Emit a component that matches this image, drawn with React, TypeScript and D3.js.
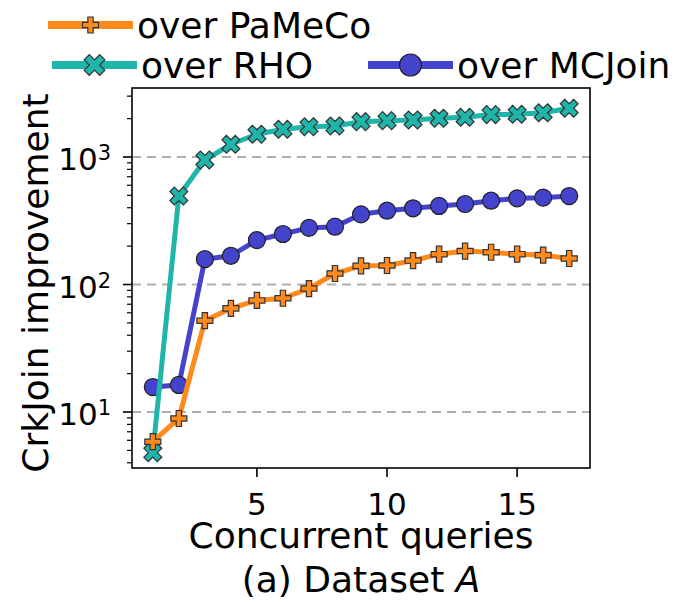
import React, { useRef, useEffect } from 'react';
import * as d3 from 'd3';

// concurrent queries 1..17
const queries = [1, 2, 3, 4, 5, 6, 7, 8, 9, 10, 11, 12, 13, 14, 15, 16, 17];

// improvement of CrkJoin over each competitor
const overPaMeCo = [5.85, 8.9, 52, 65, 75, 78, 93, 122, 140, 141, 154, 173, 183, 179, 173, 170, 160];
const overRHO = [4.8, 494, 947, 1258, 1507, 1648, 1728, 1751, 1892, 1927, 1950, 2012, 2048, 2150, 2161, 2223, 2410];
const overMCJoin = [15.7, 16.3, 158, 168, 223, 249, 278, 284, 355, 379, 396, 413, 428, 454, 474, 480, 494];

const xTicks = [5, 10, 15];
const yMajor = [10, 100, 1000];

const W = 681;
const H = 603;
const FONT = 'DejaVu Sans, sans-serif';

const ORANGE = '#ff8a1c';
const TEAL = '#20b5aa';
const BLUE = '#4343cc';

// filled plus ("P") and filled cross ("X") like matplotlib
const plusPath = (s) => {
  const a = s / 2, b = s / 6;
  return `M${-b},${-a}H${b}V${-b}H${a}V${b}H${b}V${a}H${-b}V${b}H${-a}V${-b}H${-b}Z`;
};

const App = () => {
  const ref = useRef(null);

  useEffect(() => {
    const svg = d3.select(ref.current);
    svg.selectAll('*').remove();

    const x = d3.scaleLinear().domain([0.2, 17.8]).range([132, 590]);
    const y = d3.scaleLog().domain([3.64, 3475]).range([468, 88]);
    const [x0, x1] = x.range();
    const [yb, yt] = y.range();

    svg.append('rect').attr('width', W).attr('height', H).attr('fill', '#fff');

    // grid at decades
    svg.append('g').selectAll('line')
      .data(yMajor)
      .join('line')
      .attr('x1', x0).attr('x2', x1)
      .attr('y1', d => y(d)).attr('y2', d => y(d))
      .attr('stroke', '#b0b0b0')
      .attr('stroke-width', 2)
      .attr('stroke-dasharray', '9,6');

    const line = (vals) => d3.line()
      .x((d, i) => x(queries[i]))
      .y(d => y(d))(vals);

    const series = [
      { vals: overMCJoin, color: BLUE, marker: 'circle' },
      { vals: overRHO, color: TEAL, marker: 'x' },
      { vals: overPaMeCo, color: ORANGE, marker: 'plus' },
    ];

    const drawMarker = (g, marker, color, size) => {
      if (marker === 'circle') {
        g.append('circle').attr('r', size / 2)
          .attr('fill', color).attr('stroke', '#222').attr('stroke-width', 1.2);
      } else {
        g.append('path').attr('d', plusPath(size))
          .attr('transform', marker === 'x' ? 'rotate(45)' : null)
          .attr('fill', color).attr('stroke', '#333').attr('stroke-width', 1.2)
          .attr('stroke-linejoin', 'miter');
      }
    };

    series.forEach(s => {
      svg.append('path')
        .attr('d', line(s.vals))
        .attr('fill', 'none')
        .attr('stroke', s.color)
        .attr('stroke-width', 5)
        .attr('stroke-linejoin', 'round');
      s.vals.forEach((v, i) => {
        const g = svg.append('g').attr('transform', `translate(${x(queries[i])},${y(v)})`);
        drawMarker(g, s.marker, s.color, s.marker === 'circle' ? 17 : (s.marker === 'x' ? 19 : 16));
      });
    });

    // frame
    svg.append('rect')
      .attr('x', x0).attr('y', yt)
      .attr('width', x1 - x0).attr('height', yb - yt)
      .attr('fill', 'none').attr('stroke', '#000').attr('stroke-width', 1.6);

    // x ticks
    const xg = svg.append('g');
    xg.selectAll('line').data(xTicks).join('line')
      .attr('x1', d => x(d)).attr('x2', d => x(d))
      .attr('y1', yb).attr('y2', yb + 9)
      .attr('stroke', '#000').attr('stroke-width', 1.6);
    xg.selectAll('text').data(xTicks).join('text')
      .attr('x', d => x(d)).attr('y', 515)
      .attr('text-anchor', 'middle')
      .style('font-family', FONT).style('font-size', '31px')
      .text(d => d);

    // y ticks: majors and log minors
    const minors = [];
    [1, 10, 100, 1000].forEach(base => {
      for (let k = 2; k <= 9; k++) {
        const v = base * k;
        if (v >= y.domain()[0] && v <= y.domain()[1]) minors.push(v);
      }
    });
    svg.append('g').selectAll('line').data(minors).join('line')
      .attr('x1', x0 - 5).attr('x2', x0)
      .attr('y1', d => y(d)).attr('y2', d => y(d))
      .attr('stroke', '#000').attr('stroke-width', 1.2);
    svg.append('g').selectAll('line').data(yMajor).join('line')
      .attr('x1', x0 - 9).attr('x2', x0)
      .attr('y1', d => y(d)).attr('y2', d => y(d))
      .attr('stroke', '#000').attr('stroke-width', 1.6);

    yMajor.forEach(v => {
      const t = svg.append('text')
        .attr('x', 111).attr('y', y(v) + 13)
        .attr('text-anchor', 'end')
        .style('font-family', FONT).style('font-size', '31px');
      t.append('tspan').text('10');
      t.append('tspan').attr('dy', -10).style('font-size', '21px').text(Math.round(Math.log10(v)));
    });

    // axis labels
    svg.append('text')
      .attr('x', (x0 + x1) / 2).attr('y', 548)
      .attr('text-anchor', 'middle')
      .style('font-family', FONT).style('font-size', '36px')
      .text('Concurrent queries');

    svg.append('text')
      .attr('transform', 'translate(48,283) rotate(-90)')
      .attr('text-anchor', 'middle')
      .style('font-family', FONT).style('font-size', '36px')
      .text('CrkJoin improvement');

    const title = svg.append('text')
      .attr('x', (x0 + x1) / 2).attr('y', 592)
      .attr('text-anchor', 'middle')
      .style('font-family', FONT).style('font-size', '36px');
    title.append('tspan').text('(a) Dataset ');
    title.append('tspan').style('font-style', 'italic').text('A');

    // legend
    const legend = [
      { label: 'over PaMeCo', color: ORANGE, marker: 'plus', lx: 48, ly: 25, size: 16 },
      { label: 'over RHO', color: TEAL, marker: 'x', lx: 52, ly: 65, size: 22 },
      { label: 'over MCJoin', color: BLUE, marker: 'circle', lx: 368, ly: 65, size: 22 },
    ];
    legend.forEach(d => {
      const g = svg.append('g');
      g.append('line')
        .attr('x1', d.lx).attr('x2', d.lx + 85)
        .attr('y1', d.ly).attr('y2', d.ly)
        .attr('stroke', d.color).attr('stroke-width', 8);
      const m = g.append('g').attr('transform', `translate(${d.lx + 42.5},${d.ly})`);
      drawMarker(m, d.marker, d.color, d.size);
      g.append('text')
        .attr('x', d.lx + 89).attr('y', d.ly + 13)
        .style('font-family', FONT).style('font-size', '36px')
        .text(d.label);
    });
  }, []);

  return (
    <svg ref={ref} width={W} height={H}
      style={{ position: 'absolute', left: 0, top: 0 }} />
  );
};

export default App;
